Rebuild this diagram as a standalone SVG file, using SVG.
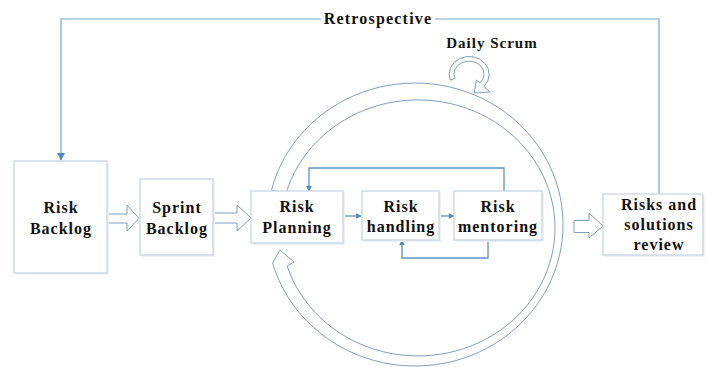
<svg xmlns="http://www.w3.org/2000/svg" width="706" height="367" viewBox="0 0 706 367">
<defs>
<style>
.box{fill:#ffffff;stroke:#c3d2de;stroke-width:1.2}
.shadow{fill:#eef2f5}
.t{font-family:"Liberation Serif","Times New Roman",serif;font-weight:bold;font-size:16px;letter-spacing:1px;fill:#111;text-anchor:middle}
.conn{fill:none;stroke:#5d93c2;stroke-width:1.3}
.retro{fill:none;stroke:#7fa6c6;stroke-width:1.2}
.hollow{fill:#ffffff;stroke:#7f9fbf;stroke-width:1}
</style>
<marker id="ah" viewBox="0 0 10 10" refX="9" refY="5" markerWidth="6" markerHeight="6" orient="auto" markerUnits="userSpaceOnUse">
<path d="M0,0 L10,5 L0,10 z" fill="#4f8bc0"/>
</marker>
<marker id="ah2" viewBox="0 0 10 10" refX="9" refY="5" markerWidth="8" markerHeight="8" orient="auto" markerUnits="userSpaceOnUse">
<path d="M0,0 L10,5 L0,10 z" fill="#4f8bc0"/>
</marker>
</defs>
<rect width="706" height="367" fill="#ffffff"/>

<g id="connectors">
<path class="retro" d="M321,19 H61 V160" marker-end="url(#ah2)"/>
<path class="retro" d="M435,19 H659 V194"/>
<text class="t" x="378" y="24" style="letter-spacing:1.2px">Retrospective</text>
<path class="conn" d="M343,216 H361" marker-end="url(#ah)"/>
<path class="conn" d="M439,216 H454" marker-end="url(#ah)"/>
<path class="conn" d="M504,191 V168 H309 V191" marker-end="url(#ah)"/>
<path class="conn" d="M488,240 V258 H402 V240" marker-end="url(#ah)"/>
<polygon class="hollow" points="108,214 127,214 127,205 139,218.5 127,231 127,223 108,223"/>
<polygon class="hollow" points="213,213 237,213 237,205 251,218 237,231 237,223 213,223"/>
<polygon class="hollow" points="574,220.5 589,220.5 589,213 603,226 589,238 589,232.5 574,232.5"/>
</g>

<g id="cycle">
<path class="hollow" d="M271.5,190 A148,141.5 0 1 1 272.6,263 L280,250 L294,262 L287.2,266 A137,128 0 1 0 285.9,194 Z"/>
</g>

<g id="daily-scrum">
<path class="hollow" d="M450.2,80.2 A20,18 0 1 1 484,86.5 L490,92 L474,93 L476.5,80 L480,83 A15,13 0 1 0 454.9,78.4 Z"/>
<text class="t" x="492" y="48" style="font-size:15px">Daily Scrum</text>
</g>

<g id="risk-backlog">
<rect class="shadow" x="16" y="163" width="93" height="112"/>
<rect class="box" x="14" y="161" width="93" height="112"/>
<text class="t" x="61" y="213">Risk</text>
<text class="t" x="61" y="234">Backlog</text>
</g>

<g id="sprint-backlog">
<rect class="shadow" x="142" y="181" width="73" height="76"/>
<rect class="box" x="140" y="179" width="73" height="76"/>
<text class="t" x="177" y="213">Sprint</text>
<text class="t" x="177" y="234">Backlog</text>
</g>

<g id="risk-planning">
<rect class="shadow" x="253" y="193" width="92" height="52"/>
<rect class="box" x="251" y="191" width="92" height="52"/>
<text class="t" x="297" y="212">Risk</text>
<text class="t" x="297" y="233">Planning</text>
</g>

<g id="risk-handling">
<rect class="shadow" x="364" y="193" width="77" height="49"/>
<rect class="box" x="362" y="191" width="77" height="49"/>
<text class="t" x="401" y="212">Risk</text>
<text class="t" x="401" y="232">handling</text>
</g>

<g id="risk-mentoring">
<rect class="shadow" x="456" y="193" width="88" height="49"/>
<rect class="box" x="454" y="191" width="88" height="49"/>
<text class="t" x="498" y="212">Risk</text>
<text class="t" x="498" y="232">mentoring</text>
</g>

<g id="risks-review">
<rect class="shadow" x="605" y="196" width="100" height="61"/>
<rect class="box" x="603" y="194" width="100" height="61"/>
<text class="t" x="659" y="210">Risks and</text>
<text class="t" x="659" y="230">solutions</text>
<text class="t" x="659" y="250">review</text>
</g>
</svg>
